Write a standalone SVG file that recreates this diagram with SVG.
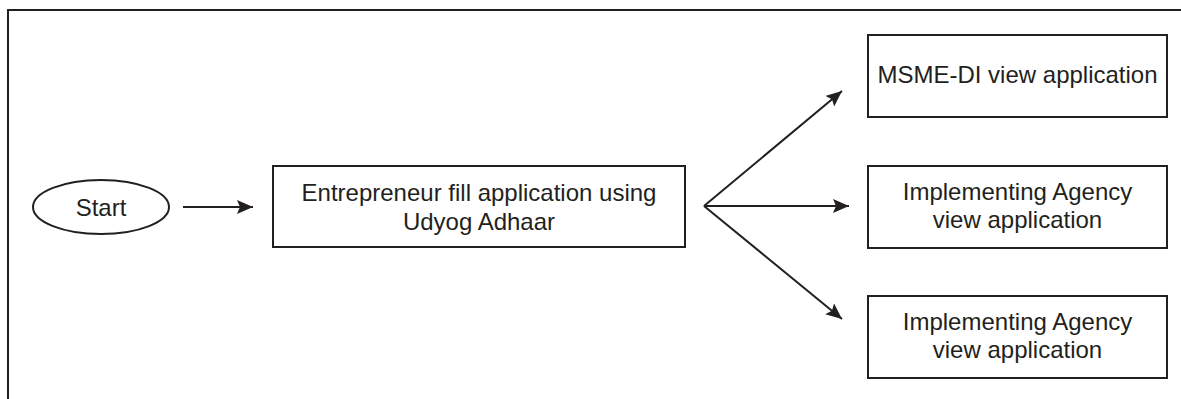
<svg xmlns="http://www.w3.org/2000/svg" width="1181" height="399" viewBox="0 0 1181 399">
<style>
.frame{fill:none;stroke:#231f20;stroke-width:2}
.box{fill:#fff;stroke:#231f20;stroke-width:2}
.lbl{font-family:"Liberation Sans",Arial,sans-serif;font-size:24px;fill:#231f20;text-anchor:middle}
.conn{fill:none;stroke:#231f20;stroke-width:2}
</style>
<defs>
<marker id="ah" markerUnits="userSpaceOnUse" markerWidth="18" markerHeight="16" refX="16" refY="7" orient="auto">
<path d="M0,0 L16,7 L0,14 L3,7 z" fill="#231f20"/>
</marker>
</defs>
<rect width="1181" height="399" fill="#fff"/>
<path class="frame" d="M8,399 L8,10 L1181,10"/>
<g id="start">
<ellipse class="box" cx="101" cy="207" rx="68" ry="27"/>
<text class="lbl" x="101" y="216">Start</text>
</g>
<g id="entrepreneur">
<rect class="box" x="273" y="166" width="412" height="81"/>
<text class="lbl" x="479" y="201">Entrepreneur fill application using</text>
<text class="lbl" x="479" y="230">Udyog Adhaar</text>
</g>
<g id="msme">
<rect class="box" x="868" y="35" width="299" height="82"/>
<text class="lbl" x="1017.5" y="83">MSME-DI view application</text>
</g>
<g id="agency1">
<rect class="box" x="868" y="166" width="299" height="82"/>
<text class="lbl" x="1017.5" y="200">Implementing Agency</text>
<text class="lbl" x="1017.5" y="228">view application</text>
</g>
<g id="agency2">
<rect class="box" x="868" y="296" width="299" height="82"/>
<text class="lbl" x="1017.5" y="330">Implementing Agency</text>
<text class="lbl" x="1017.5" y="358">view application</text>
</g>
<g id="connectors">
<line class="conn" x1="183" y1="207" x2="253" y2="207" marker-end="url(#ah)"/>
<line class="conn" x1="704" y1="206" x2="842" y2="91" marker-end="url(#ah)"/>
<line class="conn" x1="704" y1="206" x2="849" y2="206" marker-end="url(#ah)"/>
<line class="conn" x1="704" y1="206" x2="842" y2="319" marker-end="url(#ah)"/>
</g>
</svg>
